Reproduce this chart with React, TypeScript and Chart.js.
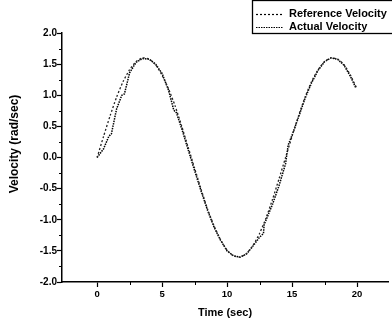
import React, { useEffect, useRef } from "react";
import { Chart, registerables } from "chart.js";

Chart.register(...registerables);

const refTime = [0, 0.5, 1, 1.5, 2, 2.5, 3, 3.5, 4, 4.5, 5, 5.5, 6, 6.5, 7, 7.5, 8, 8.5, 9, 9.5, 10, 10.5, 11, 11.5, 12, 12.5, 13, 13.5, 14, 14.5, 15, 15.5, 16, 16.5, 17, 17.5, 18, 18.5, 19, 19.5, 20];
const refVelocity = [0, 0.34, 0.67, 0.97, 1.22, 1.41, 1.54, 1.6, 1.58, 1.49, 1.32, 1.1, 0.83, 0.51, 0.17, -0.17, -0.51, -0.83, -1.1, -1.32, -1.49, -1.58, -1.6, -1.54, -1.41, -1.22, -0.97, -0.67, -0.34, 0, 0.34, 0.67, 0.97, 1.22, 1.41, 1.54, 1.6, 1.58, 1.49, 1.32, 1.1];

const actTime = [0, 0.5, 0.9, 1.1, 1.5, 1.9, 2.1, 2.5, 3, 3.5, 4, 4.5, 5, 5.5, 5.9, 6.1, 6.5, 7, 7.5, 8, 8.5, 9, 9.5, 10, 10.5, 11, 11.5, 12, 12.5, 12.8, 12.85, 13.5, 14, 14.5, 14.7, 15, 15.5, 16, 16.5, 17, 17.5, 18, 18.5, 19, 19.5, 19.9];
const actVelocity = [0, 0.14, 0.34, 0.38, 0.78, 1.0, 1.02, 1.36, 1.53, 1.59, 1.58, 1.5, 1.35, 1.08, 0.76, 0.72, 0.47, 0.13, -0.21, -0.54, -0.85, -1.12, -1.33, -1.5, -1.58, -1.6, -1.55, -1.42, -1.28, -1.22, -1.08, -0.75, -0.45, -0.1, 0.2, 0.36, 0.65, 0.95, 1.2, 1.4, 1.54, 1.6, 1.58, 1.48, 1.3, 1.12];

const xMajorTicks = [0, 5, 10, 15, 20];
const xMinorTicks = [2.5, 7.5, 12.5, 17.5];
const yMinorTicks = [-1.75, -1.25, -0.75, -0.25, 0.25, 0.75, 1.25, 1.75];
const legendLabels = ["Reference Velocity", "Actual Velocity"];
const yTitle = "Velocity (rad/sec)";

const FONT = "'Liberation Sans', Arial, sans-serif";

export default function App() {
  const ref = useRef<HTMLCanvasElement | null>(null);
  useEffect(() => {
    if (!ref.current) return;
    const extras = {
      id: "extras",
      afterDraw(chart: any) {
        const ctx = chart.ctx;
        const xs = chart.scales.x;
        const ys = chart.scales.y;
        ctx.save();
        ctx.strokeStyle = "#000";
        ctx.lineWidth = 1;
        ctx.beginPath();
        for (const v of xMinorTicks) {
          const px = Math.round(xs.getPixelForValue(v)) + 0.5;
          ctx.moveTo(px, ys.bottom);
          ctx.lineTo(px, ys.bottom + 3);
        }
        for (const v of yMinorTicks) {
          const py = Math.round(ys.getPixelForValue(v)) + 0.5;
          ctx.moveTo(xs.left, py);
          ctx.lineTo(xs.left - 3, py);
        }
        ctx.stroke();
        // y title
        ctx.save();
        ctx.translate(15, 144);
        ctx.rotate(-Math.PI / 2);
        ctx.fillStyle = "#000";
        ctx.font = `bold 12px ${FONT}`;
        ctx.textAlign = "center";
        ctx.textBaseline = "middle";
        ctx.fillText(yTitle, 0, 0);
        ctx.restore();
        // legend
        ctx.lineWidth = 1.3;
        ctx.strokeStyle = "#000";
        ctx.strokeRect(252.5, 0.5, 150, 33);
        const rows = [14, 27];
        const dashes = [[2, 2], [1.5, 1]];
        legendLabels.forEach((lab, i) => {
          ctx.lineWidth = 1.2;
          ctx.setLineDash(dashes[i]);
          ctx.beginPath();
          ctx.moveTo(256, rows[i] + 0.5);
          ctx.lineTo(283, rows[i] + 0.5);
          ctx.stroke();
          ctx.setLineDash([]);
          ctx.fillStyle = "#000";
          ctx.font = `bold 11px ${FONT}`;
          ctx.textBaseline = "middle";
          ctx.textAlign = "left";
          ctx.fillText(lab, 289, rows[i]);
        });
        ctx.restore();
      },
    };
    const chart = new Chart(ref.current, {
      type: "line",
      data: {
        datasets: [
          {
            label: legendLabels[0],
            data: refTime.map((t, i) => ({ x: t, y: refVelocity[i] })),
            borderColor: "#222",
            borderWidth: 1.3,
            borderDash: [2, 2],
            pointRadius: 0,
            tension: 0.2,
          },
          {
            label: legendLabels[1],
            data: actTime.map((t, i) => ({ x: t, y: actVelocity[i] })),
            borderColor: "#000",
            borderWidth: 1.5,
            borderDash: [1.5, 1],
            pointRadius: 0,
            tension: 0,
          },
        ],
      },
      options: {
        animation: false,
        responsive: false,
        layout: { padding: { top: 33, right: 4, left: 0, bottom: 0 } },
        plugins: { legend: { display: false }, tooltip: { enabled: false } },
        scales: {
          x: {
            type: "linear",
            min: -2.7,
            max: 22.38,
            afterBuildTicks: (s: any) => {
              s.ticks = xMajorTicks.map((v) => ({ value: v }));
            },
            afterFit: (s: any) => {
              s.height = 42;
            },
            grid: { drawOnChartArea: false, color: "#000", tickLength: 5, tickWidth: 1.2 },
            border: { display: true, color: "#000", width: 1.5 },
            ticks: {
              color: "#000",
              padding: 2,
              maxRotation: 0,
              font: { family: FONT, size: 9.5, weight: "bold" },
              callback: (v: any) => String(v),
            },
            title: {
              display: true,
              text: "Time (sec)",
              color: "#000",
              font: { family: FONT, size: 11, weight: "bold" },
              padding: { top: 0, bottom: 4.4 },
            },
          },
          y: {
            type: "linear",
            min: -2,
            max: 2,
            afterFit: (s: any) => {
              s.width = 62;
            },
            grid: { drawOnChartArea: false, color: "#000", tickLength: 5, tickWidth: 1.2 },
            border: { display: true, color: "#000", width: 1.5 },
            ticks: {
              stepSize: 0.5,
              color: "#000",
              padding: 0,
              font: { family: FONT, size: 10, weight: "bold" },
              callback: (v: any) => Number(v).toFixed(1),
            },
            title: { display: false },
          },
        },
      },
      plugins: [extras],
    });
    return () => chart.destroy();
  }, []);
  return (
    <div style={{ position: "absolute", left: 0, top: 0, width: 392, height: 324, background: "#fff" }}>
      <canvas ref={ref} width={392} height={324} />
    </div>
  );
}
